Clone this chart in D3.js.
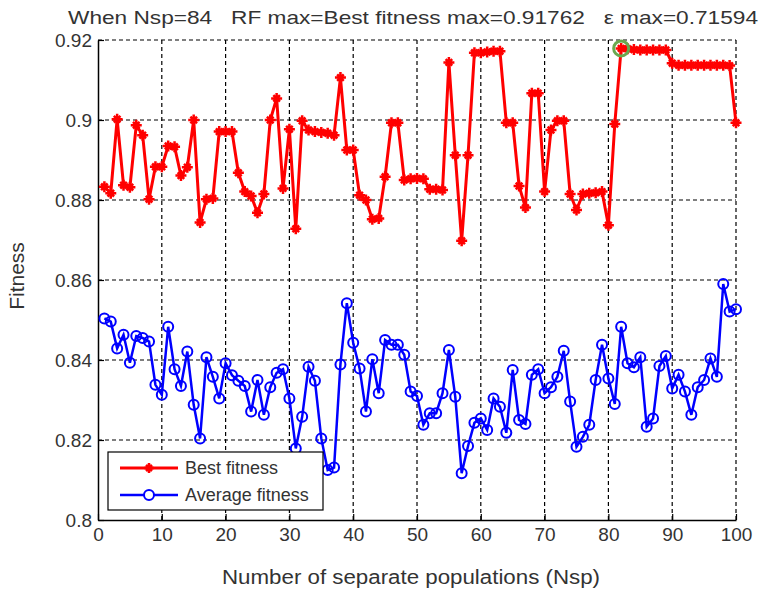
<!DOCTYPE html>
<html>
<head>
<meta charset="utf-8">
<script src="https://cdnjs.cloudflare.com/ajax/libs/d3/7.8.5/d3.min.js"></script>
<style>
  body { margin: 0; background: #fff; }
  svg { font-family: Arial, "Liberation Sans", sans-serif; }
</style>
</head>
<body>
<svg id="chart" width="765" height="591"></svg>
<script>
// values
var bestFitness = [
  0.8833, 0.8817, 0.9002, 0.8837, 0.8832, 0.8987, 0.8962, 0.8802, 0.8883, 0.8883,
  0.8935, 0.8933, 0.8861, 0.8882, 0.9000, 0.8744, 0.8802, 0.8804, 0.8971, 0.8971,
  0.8971, 0.8868, 0.8821, 0.8810, 0.8768, 0.8815, 0.9000, 0.9054, 0.8829, 0.8977,
  0.8728, 0.8998, 0.8975, 0.8971, 0.8969, 0.8967, 0.8962, 0.9106, 0.8925, 0.8925,
  0.8812, 0.8800, 0.8752, 0.8754, 0.8858, 0.8993, 0.8993, 0.8850, 0.8853, 0.8854,
  0.8853, 0.8827, 0.8827, 0.8825, 0.9144, 0.8912, 0.8698, 0.8912, 0.9168, 0.9168,
  0.9170, 0.9172, 0.9172, 0.8993, 0.8993, 0.8835, 0.8781, 0.9067, 0.9067, 0.8821,
  0.8975, 0.8998, 0.8998, 0.8815, 0.8775, 0.8815, 0.8817, 0.8818, 0.8821, 0.8737,
  0.8990, 0.9179, 0.9178, 0.9176, 0.9175, 0.9175, 0.9175, 0.9175, 0.9175, 0.9142,
  0.9137, 0.9137, 0.9137, 0.9137, 0.9137, 0.9137, 0.9137, 0.9137, 0.9136, 0.8993
];
var avgFitness = [
  0.8504, 0.8496, 0.8429, 0.8463, 0.8393, 0.8460, 0.8455, 0.8446, 0.8338, 0.8313,
  0.8483, 0.8377, 0.8335, 0.8421, 0.8288, 0.8204, 0.8407, 0.8358, 0.8304, 0.8392,
  0.8362, 0.8348, 0.8335, 0.8271, 0.8350, 0.8263, 0.8332, 0.8368, 0.8377, 0.8304,
  0.8179, 0.8258, 0.8383, 0.8348, 0.8204, 0.8125, 0.8131, 0.8389, 0.8542, 0.8443,
  0.8379, 0.8271, 0.8402, 0.8317, 0.8450, 0.8438, 0.8438, 0.8413, 0.8321, 0.8310,
  0.8238, 0.8267, 0.8267, 0.8317, 0.8425, 0.8308, 0.8117, 0.8185, 0.8243, 0.8254,
  0.8225, 0.8304, 0.8283, 0.8218, 0.8375, 0.8250, 0.8240, 0.8363, 0.8377, 0.8317,
  0.8332, 0.8358, 0.8423, 0.8296, 0.8183, 0.8208, 0.8238, 0.8350, 0.8438, 0.8354,
  0.8290, 0.8483, 0.8392, 0.8382, 0.8407, 0.8233, 0.8254, 0.8385, 0.8410, 0.8329,
  0.8363, 0.8321, 0.8263, 0.8332, 0.8350, 0.8404, 0.8358, 0.8590, 0.8521, 0.8527
];
var xTicks = [0, 10, 20, 30, 40, 50, 60, 70, 80, 90, 100];
var yTicks = [0.8, 0.82, 0.84, 0.86, 0.88, 0.9, 0.92];
var yTickLabels = ["0.8", "0.82", "0.84", "0.86", "0.88", "0.9", "0.92"];
var seriesNames = ["Best fitness", "Average fitness"];
var bestIndex = 82;
var titleText = "When Nsp=84   RF max=Best fitness max=0.91762   \u03b5 max=0.71594";

var margin = {left: 98, right: 29, top: 40, bottom: 71},
    width = 765 - margin.left - margin.right,
    height = 591 - margin.top - margin.bottom;

var svg = d3.select("#chart");
var g = svg.append("g").attr("transform", "translate(" + margin.left + "," + margin.top + ")");

var xScale = d3.scaleLinear().domain([0, 100]).range([0, width]);
var yScale = d3.scaleLinear().domain([0.8, 0.92]).range([height, 0]);

// dashed grid
g.append("g").selectAll("line").data(xTicks.slice(1)).enter().append("line")
  .attr("x1", function(d) { return xScale(d); }).attr("x2", function(d) { return xScale(d); })
  .attr("y1", 0).attr("y2", height)
  .style("stroke", "#000").style("stroke-width", 1.2).style("stroke-dasharray", "4,3");
g.append("g").selectAll("line").data(yTicks.slice(1)).enter().append("line")
  .attr("y1", function(d) { return yScale(d); }).attr("y2", function(d) { return yScale(d); })
  .attr("x1", 0).attr("x2", width)
  .style("stroke", "#000").style("stroke-width", 1.2).style("stroke-dasharray", "4,3");

// axes
var xAxis = d3.axisBottom(xScale).tickValues(xTicks).tickSizeInner(-6).tickSizeOuter(0).tickPadding(8);
var yAxis = d3.axisLeft(yScale).tickValues(yTicks).tickSizeInner(-6).tickSizeOuter(0).tickPadding(6)
  .tickFormat(function(d, i) { return yTickLabels[i]; });

var xg = g.append("g").attr("transform", "translate(0," + height + ")").call(xAxis);
var yg = g.append("g").call(yAxis);
[xg, yg].forEach(function(a) {
  a.select("path.domain").style("stroke", "#000").style("stroke-width", 1.5);
  a.selectAll("line").style("stroke", "#000").style("stroke-width", 1.2);
  a.selectAll("text").style("font-size", "19px").style("fill", "#333");
});

var line = d3.line()
  .x(function(d, i) { return xScale(i + 1); })
  .y(function(d) { return yScale(d); });

// best fitness
g.append("path").datum(bestFitness).attr("d", line)
  .style("fill", "none").style("stroke", "#ff0000").style("stroke-width", 3);

function starPath(s) {
  return "M" + (-s) + ",0L" + s + ",0M0," + (-s) + "L0," + s +
    "M" + (-s * 0.6) + "," + (-s * 0.6) + "L" + (s * 0.6) + "," + (s * 0.6) +
    "M" + (-s * 0.6) + "," + (s * 0.6) + "L" + (s * 0.6) + "," + (-s * 0.6);
}
g.append("g").selectAll("path").data(bestFitness).enter().append("path")
  .attr("transform", function(d, i) { return "translate(" + xScale(i + 1) + "," + yScale(d) + ")"; })
  .attr("d", starPath(5.5))
  .style("stroke", "#ff0000").style("stroke-width", 2.5).style("fill", "none");

// average fitness
g.append("path").datum(avgFitness).attr("d", line)
  .style("fill", "none").style("stroke", "#0000ff").style("stroke-width", 2.5);
g.append("g").selectAll("circle").data(avgFitness).enter().append("circle")
  .attr("cx", function(d, i) { return xScale(i + 1); })
  .attr("cy", function(d) { return yScale(d); })
  .attr("r", 5)
  .style("fill", "none").style("stroke", "#0000ff").style("stroke-width", 2);

// best point highlight
g.append("circle")
  .attr("cx", xScale(bestIndex)).attr("cy", yScale(bestFitness[bestIndex - 1]))
  .attr("r", 7.5)
  .style("fill", "none").style("stroke", "#6aa84f").style("stroke-width", 3);

// legend
var legend = g.append("g").attr("transform", "translate(10,412)");
legend.append("rect").attr("width", 215).attr("height", 58)
  .style("fill", "#fff").style("stroke", "#000").style("stroke-width", 1.2);
var colors = ["#ff0000", "#0000ff"];
seriesNames.forEach(function(name, i) {
  var ly = 16 + i * 27;
  legend.append("line").attr("x1", 12).attr("x2", 70).attr("y1", ly).attr("y2", ly)
    .style("stroke", colors[i]).style("stroke-width", i === 0 ? 3 : 2.5);
  if (i === 0) {
    legend.append("path").attr("transform", "translate(41," + ly + ")").attr("d", starPath(5))
      .style("stroke", colors[i]).style("stroke-width", 2.5);
  } else {
    legend.append("circle").attr("cx", 41).attr("cy", ly).attr("r", 5)
      .style("fill", "#fff").style("stroke", colors[i]).style("stroke-width", 2);
  }
  legend.append("text").attr("x", 77).attr("y", ly).attr("dy", "0.35em")
    .style("font-size", "18px").style("fill", "#333").text(name);
});

// title and axis labels
svg.append("text").attr("x", 68).attr("y", 24)
  .attr("textLength", 690).attr("lengthAdjust", "spacingAndGlyphs")
  .style("white-space", "pre")
  .style("font-size", "19px").style("fill", "#333").text(titleText);
svg.append("text").attr("x", 411).attr("y", 584).attr("text-anchor", "middle")
  .attr("textLength", 378).attr("lengthAdjust", "spacingAndGlyphs")
  .style("font-size", "20px").style("fill", "#333").text("Number of separate populations (Nsp)");
svg.append("text").attr("transform", "translate(24,276) rotate(-90)").attr("text-anchor", "middle")
  .style("font-size", "21px").style("fill", "#333").text("Fitness");
</script>
</body>
</html>
